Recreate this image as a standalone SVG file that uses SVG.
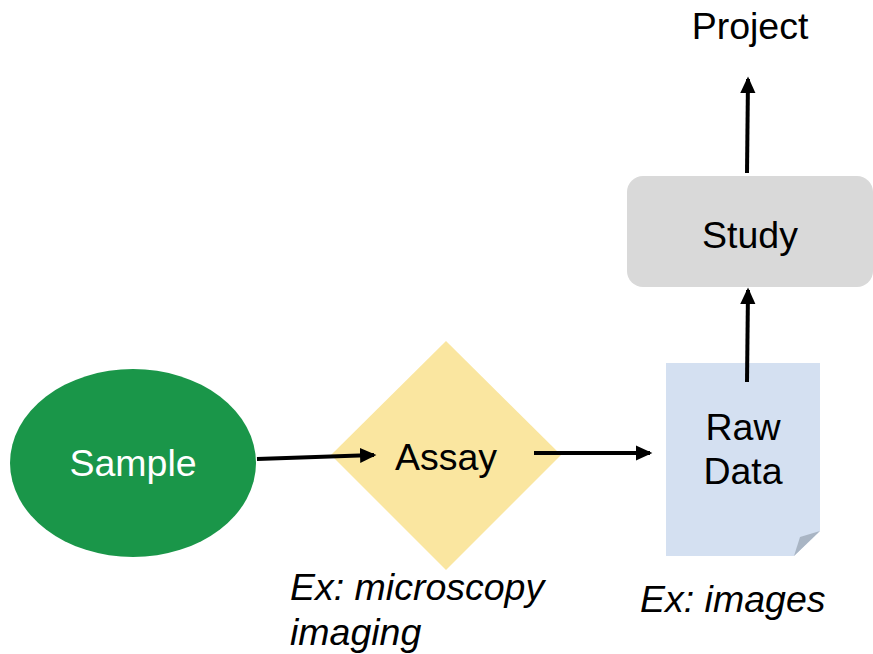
<svg xmlns="http://www.w3.org/2000/svg" width="873" height="654" viewBox="0 0 873 654">
<style>
text{font-family:"Liberation Sans",Arial,sans-serif;font-size:37.5px;fill:#000}
.c{text-anchor:middle}
.it{font-style:italic}
.conn{stroke:#000;stroke-width:4;fill:none}
</style>
<defs>
<marker id="ah" markerWidth="5" markerHeight="5" refX="3.5" refY="1.9" orient="auto" markerUnits="strokeWidth"><path d="M0,0L4.1,1.9L0,3.8Z" fill="#000"/></marker>
</defs>
<rect width="873" height="654" fill="#fff"/>
<g id="sample"><ellipse cx="133" cy="463" rx="123" ry="94" fill="#1a9649"/><text class="c" x="133" y="476" style="fill:#fff">Sample</text></g>
<g id="assay"><path d="M446,341L561,455L446,570L331,455Z" fill="#fae6a0"/><text class="c" x="446" y="470">Assay</text></g>
<g id="rawdata"><path d="M666,363H820V531L794,556H666Z" fill="#d4e0f1"/><path d="M820,531L794,556L800,537Z" fill="#a9b5c4"/><text class="c" x="743" y="440">Raw</text><text class="c" x="743" y="484">Data</text></g>
<g id="study"><rect x="627" y="176" width="246" height="111" rx="16" fill="#d9d9d9"/><text class="c" x="750" y="248">Study</text></g>
<g id="project"><text class="c" x="750" y="39">Project</text></g>
<g id="labels"><text class="it" x="290" y="600">Ex: microscopy</text><text class="it" x="290" y="645">imaging</text><text class="it" x="640" y="612">Ex: images</text></g>
<g id="connectors">
<path class="conn" d="M257,459L374,455" marker-end="url(#ah)"/>
<path class="conn" d="M534,453L650,453" marker-end="url(#ah)"/>
<path class="conn" d="M747,382L748,290" marker-end="url(#ah)"/>
<path class="conn" d="M747,173L748,79" marker-end="url(#ah)"/>
</g>
</svg>
